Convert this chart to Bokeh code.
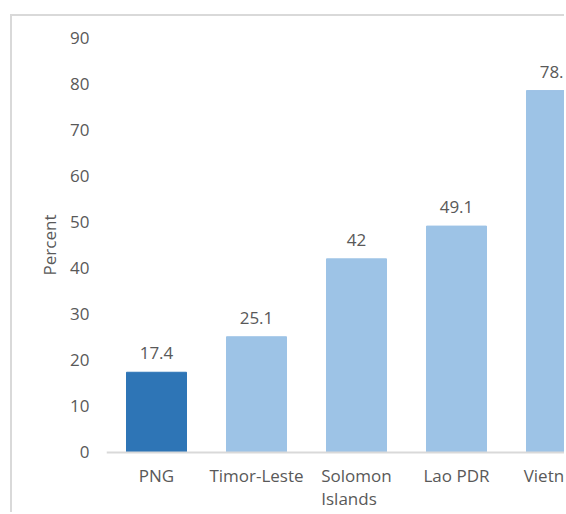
from bokeh.plotting import figure
from bokeh.models import (ColumnDataSource, Range1d, FixedTicker, LabelSet, Span,
                          LinearAxis)
from bokeh.core.properties import value
from bokeh.embed import file_html
from bokeh.resources import INLINE

categories = ["PNG", "Timor-Leste", "Solomon\nIslands", "Lao PDR", "Vietnam"]
values = [17.4, 25.1, 42, 49.1, 78.5]
value_labels = ["17.4", "25.1", "42", "49.1", "78.5"]
y_ticks = [0, 10, 20, 30, 40, 50, 60, 70, 80, 90]
y_title = "Percent"
highlight = "PNG"

DARK = "#2E75B6"
LIGHT = "#9DC3E6"
TEXT = "#595959"
BORDER = "#D9D9D9"
FONT = "Open Sans"
FS = "17px"

xs = list(range(len(categories)))
colors = [DARK if c == highlight else LIGHT for c in categories]

src = ColumnDataSource(dict(x=xs, top=values, color=colors, label=value_labels,
                            cat=categories))

W, H = 554, 498
p = figure(width=W, height=H, output_backend="svg", toolbar_location=None,
           x_axis_location=None,
           x_range=Range1d(-0.5, 4.1), y_range=Range1d(-13.45, 91.52),
           min_border_left=94, min_border_right=0, min_border_top=14, min_border_bottom=0)
# chart-area border: only the top and left edges are visible in the crop
p.styles = {"border-top": f"2px solid {BORDER}", "border-left": f"2px solid {BORDER}",
            "margin-left": "10px", "margin-top": "14px"}
p.outline_line_color = None
p.xgrid.visible = False
p.ygrid.visible = False
p.background_fill_color = "white"
p.border_fill_color = "white"

p.vbar(x="x", top="top", bottom=0, width=0.6, color="color", source=src)

# category axis baseline
p.add_layout(Span(location=0, dimension="width", line_color=BORDER, line_width=2))

labels = LabelSet(x="x", y="top", text="label", source=src, text_align="center",
                  text_baseline="alphabetic", y_offset=13, text_font=value(FONT),
                  text_font_size=FS, text_color=TEXT)
p.add_layout(labels)

# category labels under each bar (the last one runs off the edge as in the crop)
cat_labels = LabelSet(x="x", y=0, text="cat", source=src, text_align="center",
                      text_baseline="top", y_offset=-12, text_font=value(FONT),
                      text_font_size=FS, text_color=TEXT, text_line_height=0.97)
p.add_layout(cat_labels)

ya = p.yaxis[0]
ya.ticker = FixedTicker(ticks=y_ticks)
ya.axis_line_color = None
ya.major_tick_line_color = None
ya.minor_tick_line_color = None
ya.major_tick_out = 0
ya.major_tick_in = 0
ya.major_label_standoff = 17
ya.major_label_text_font = FONT
ya.major_label_text_font_size = FS
ya.major_label_text_color = TEXT

# y-axis title, centred on the 0-90 span of the value axis
mid = (y_ticks[0] + y_ticks[-1]) / 2
ta = LinearAxis(ticker=FixedTicker(ticks=[mid]), major_label_overrides={mid: y_title},
                major_label_orientation="parallel",
                axis_line_color=None, major_tick_line_color=None, minor_tick_line_color=None,
                major_tick_out=0, major_tick_in=0, major_label_standoff=6,
                major_label_text_font=FONT, major_label_text_font_size=FS,
                major_label_text_color=TEXT)
p.add_layout(ta, "left")

open("out.html", "w").write(file_html(p, INLINE))
